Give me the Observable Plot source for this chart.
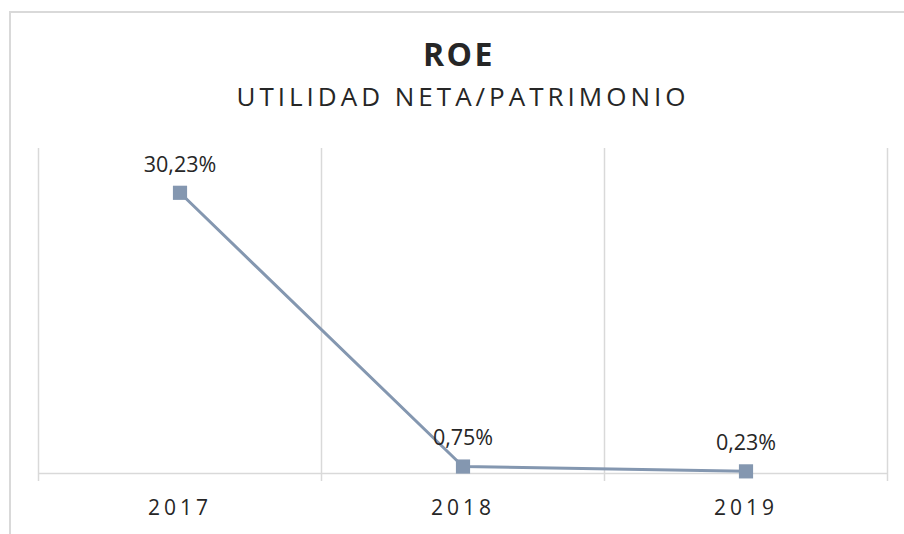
<!DOCTYPE html>
<html>
<head>
<meta charset="utf-8">
<script src="https://cdn.jsdelivr.net/npm/d3@7"></script>
<script src="https://cdn.jsdelivr.net/npm/@observablehq/plot@0.6"></script>
<style>
  html, body { margin: 0; padding: 0; background: #fff; }
  #wrap { position: relative; width: 904px; height: 534px; overflow: hidden; font-family: "Open Sans", sans-serif; color: #262626; }
  #frame { position: absolute; left: 9px; top: 11px; width: 1000px; height: 1000px; border-left: 2px solid #d9d9d9; border-top: 2px solid #d9d9d9; pointer-events: none; }
  #head { position: relative; height: 140px; width: 904px; }
  #title { position: absolute; left: -2px; width: 922px; top: 38px; text-align: center; font-weight: bold; font-size: 32px; letter-spacing: 2.5px; line-height: 1; white-space: nowrap; }
  #subtitle { position: absolute; left: 2px; width: 922px; top: 83px; text-align: center; font-size: 26px; letter-spacing: 4px; line-height: 1; white-space: nowrap; }
  #chart svg { display: block; }
  #chart .xlab text { letter-spacing: 4px; }
</style>
</head>
<body>
<div id="wrap">
  <div id="frame"></div>
  <div id="head">
    <div id="title">ROE</div>
    <div id="subtitle">UTILIDAD NETA/PATRIMONIO</div>
  </div>
  <div id="chart"></div>
</div>
<script>
const years = ["2017", "2018", "2019"];
const roe = [30.23, 0.75, 0.23];
const labels = ["30,23%", "0,75%", "0,23%"];

const data = years.map((y, i) => ({year: y, value: roe[i], label: labels[i]}));

const W = 904, H = 394;
const mL = 38, mR = 17, mT = 8, mB = 61;
const bw = (W - mL - mR) / years.length;
const col = "#8497b0";
const grid = "#d9d9d9";

const chart = Plot.plot({
  width: W,
  height: H,
  marginLeft: mL,
  marginRight: mR,
  marginTop: mT,
  marginBottom: mB,
  style: {fontFamily: "Open Sans, sans-serif", color: "#262626", background: "#fff"},
  x: {type: "band", domain: years, padding: 0, label: null, axis: null},
  y: {domain: [0, 35], axis: null},
  marks: [
    Plot.ruleX(years, {x: d => d, dx: -bw / 2, y1: 35, y2: 0, stroke: grid, strokeWidth: 1.5, insetBottom: -8}),
    Plot.ruleX([years[years.length - 1]], {x: d => d, dx: bw / 2, y1: 35, y2: 0, stroke: grid, strokeWidth: 1.5, insetBottom: -8}),
    Plot.ruleY([0], {stroke: grid, strokeWidth: 1.5}),
    Plot.text(years, {x: d => d, y: 0, dy: 35, dx: 0, text: d => d, fontSize: 21, fill: "#262626", className: "xlab"}),
    Plot.line(data, {x: "year", y: "value", stroke: col, strokeWidth: 3}),
    Plot.dot(data, {x: "year", y: "value", symbol: "square", r: 8, fill: col, stroke: "none"}),
    Plot.text(data, {x: "year", y: "value", text: "label", dy: -28, fontSize: 21.5, fill: "#262626"})
  ]
});
document.getElementById("chart").appendChild(chart);
</script>
</body>
</html>
